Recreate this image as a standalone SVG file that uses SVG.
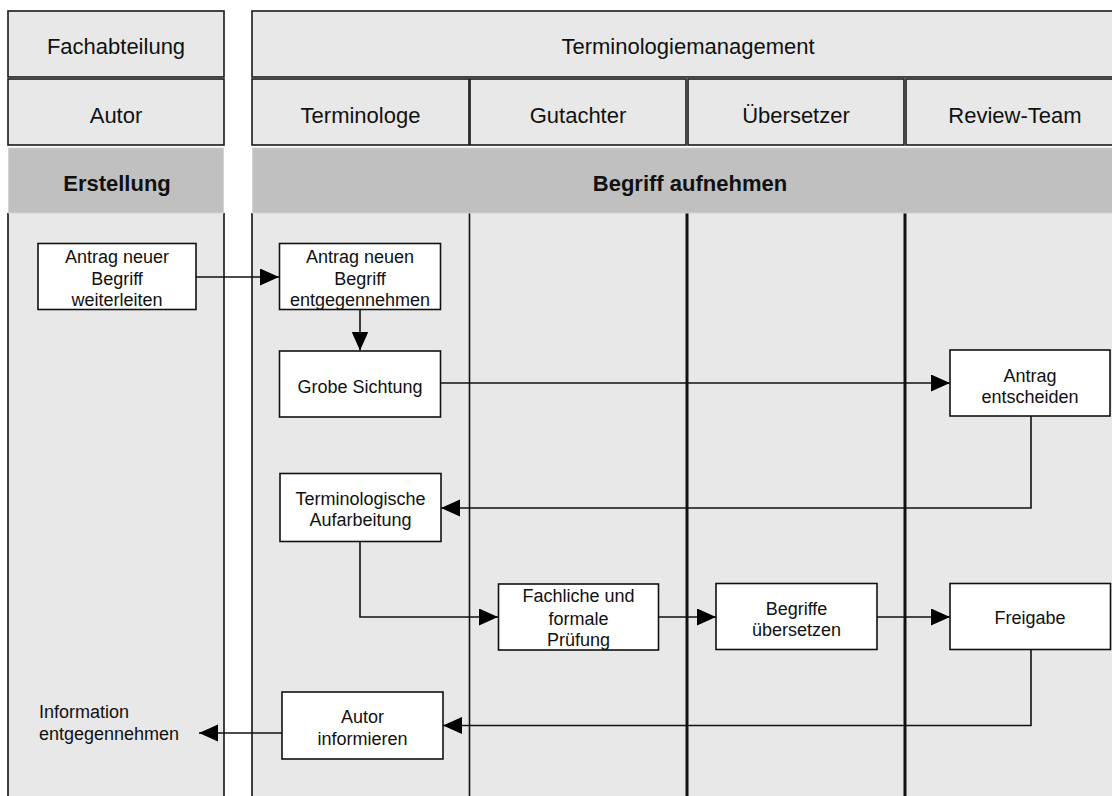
<svg xmlns="http://www.w3.org/2000/svg" width="1112" height="796" viewBox="0 0 1112 796">
<defs>
<style>
.hdr{fill:#e8e8e8;stroke:#1a1a1a;stroke-width:1.6}
.phase{fill:#c0c0c0;stroke:#d4d4d4;stroke-width:1}
.body{fill:#e8e8e8;stroke:none}
.bl{stroke:#111;stroke-width:1.6;fill:none}
.blt{stroke:#111;stroke-width:3;fill:none}
.ht{font-family:"Liberation Sans",Arial,sans-serif;font-size:22px;fill:#111;text-anchor:middle}
.pt{font-family:"Liberation Sans",Arial,sans-serif;font-size:22px;font-weight:bold;fill:#111;text-anchor:middle}
.box{fill:#fff;stroke:#111;stroke-width:1.6}
.nt{font-family:"Liberation Sans",Arial,sans-serif;font-size:18px;fill:#111;text-anchor:middle}
.lt{font-family:"Liberation Sans",Arial,sans-serif;font-size:18px;fill:#111}
.con{stroke:#111;stroke-width:1.6;fill:none}
</style>
<marker id="ah" markerUnits="userSpaceOnUse" markerWidth="20" markerHeight="18" refX="19" refY="8.5" orient="auto">
<path d="M0,0 L19,8.5 L0,17 z" fill="#000"/>
</marker>
</defs>
<rect x="0" y="0" width="1112" height="796" fill="#fff"/>

<g id="lanes">
<rect class="body" x="8" y="213" width="216" height="590"/>
<rect class="body" x="252" y="213" width="873" height="590"/>
<line class="bl" x1="8" y1="213" x2="8" y2="800"/>
<line class="bl" x1="224" y1="213" x2="224" y2="800"/>
<line class="bl" x1="252" y1="213" x2="252" y2="800"/>
<line class="bl" x1="469.5" y1="213" x2="469.5" y2="800"/>
<line class="blt" x1="687" y1="213" x2="687" y2="800"/>
<line class="blt" x1="905" y1="213" x2="905" y2="800"/>
</g>

<g id="header-fachabteilung">
<rect class="hdr" x="8" y="11" width="216" height="66"/>
<text class="ht" x="116" y="54">Fachabteilung</text>
</g>
<g id="header-terminologiemanagement">
<rect class="hdr" x="252" y="11" width="873" height="66"/>
<text class="ht" x="688" y="54">Terminologiemanagement</text>
</g>
<g id="role-autor">
<rect class="hdr" x="8" y="79" width="216" height="66"/>
<text class="ht" x="116" y="122.5">Autor</text>
</g>
<g id="role-terminologe">
<rect class="hdr" x="252" y="79" width="217" height="66"/>
<text class="ht" x="360.5" y="122.5">Terminologe</text>
</g>
<g id="role-gutachter">
<rect class="hdr" x="470" y="79" width="216" height="66"/>
<text class="ht" x="578" y="122.5">Gutachter</text>
</g>
<g id="role-uebersetzer">
<rect class="hdr" x="688" y="79" width="216" height="66"/>
<text class="ht" x="796" y="122.5">Übersetzer</text>
</g>
<g id="role-review">
<rect class="hdr" x="906" y="79" width="219" height="66"/>
<text class="ht" x="1015" y="122.5">Review-Team</text>
</g>
<g id="phase-erstellung">
<rect class="phase" x="8.5" y="148" width="215" height="65"/>
<text class="pt" x="117" y="190.5">Erstellung</text>
</g>
<g id="phase-begriff">
<rect class="phase" x="252.5" y="148" width="872" height="65"/>
<text class="pt" x="690" y="190.5">Begriff aufnehmen</text>
</g>

<g id="connectors">
<line class="con" x1="196" y1="277" x2="279" y2="277" marker-end="url(#ah)"/>
<line class="con" x1="360" y1="309" x2="360" y2="350.5" marker-end="url(#ah)"/>
<line class="con" x1="441" y1="383" x2="950" y2="383" marker-end="url(#ah)"/>
<polyline class="con" points="1031,416 1031,508 441,508" marker-end="url(#ah)"/>
<polyline class="con" points="360,542 360,617 498,617" marker-end="url(#ah)"/>
<line class="con" x1="658" y1="617" x2="716" y2="617" marker-end="url(#ah)"/>
<line class="con" x1="877" y1="617" x2="950" y2="617" marker-end="url(#ah)"/>
<polyline class="con" points="1031,649 1031,725.5 443,725.5" marker-end="url(#ah)"/>
<line class="con" x1="282" y1="733" x2="199" y2="733" marker-end="url(#ah)"/>
</g>

<g id="n-antrag-weiterleiten">
<rect class="box" x="38" y="243.5" width="158" height="66"/>
<text class="nt" x="117" y="263">Antrag neuer</text>
<text class="nt" x="117" y="284.7">Begriff</text>
<text class="nt" x="117" y="306.3">weiterleiten</text>
</g>
<g id="n-antrag-entgegennehmen">
<rect class="box" x="279.5" y="243.5" width="161" height="66"/>
<text class="nt" x="360" y="263">Antrag neuen</text>
<text class="nt" x="360" y="284.7">Begriff</text>
<text class="nt" x="360" y="306.3">entgegennehmen</text>
</g>
<g id="n-grobe-sichtung">
<rect class="box" x="279.5" y="351" width="161" height="66"/>
<text class="nt" x="360" y="392.5">Grobe Sichtung</text>
</g>
<g id="n-antrag-entscheiden">
<rect class="box" x="950" y="350" width="160" height="66"/>
<text class="nt" x="1030" y="381.7">Antrag</text>
<text class="nt" x="1030" y="403.4">entscheiden</text>
</g>
<g id="n-terminologische-aufarbeitung">
<rect class="box" x="280" y="473.5" width="161" height="68"/>
<text class="nt" x="360.5" y="504.7">Terminologische</text>
<text class="nt" x="360.5" y="526.4">Aufarbeitung</text>
</g>
<g id="n-fachliche-pruefung">
<rect class="box" x="498.5" y="584" width="160" height="66"/>
<text class="nt" x="578.5" y="602.4">Fachliche und</text>
<text class="nt" x="578.5" y="624.7">formale</text>
<text class="nt" x="578.5" y="646.4">Prüfung</text>
</g>
<g id="n-begriffe-uebersetzen">
<rect class="box" x="716" y="583.5" width="161" height="66"/>
<text class="nt" x="796.5" y="614.7">Begriffe</text>
<text class="nt" x="796.5" y="636.4">übersetzen</text>
</g>
<g id="n-freigabe">
<rect class="box" x="950" y="583.5" width="160.5" height="66"/>
<text class="nt" x="1030" y="623.6">Freigabe</text>
</g>
<g id="n-autor-informieren">
<rect class="box" x="282" y="692" width="161" height="67"/>
<text class="nt" x="362.5" y="723">Autor</text>
<text class="nt" x="362.5" y="744.7">informieren</text>
</g>
<g id="n-information-entgegennehmen">
<text class="lt" x="39" y="718">Information</text>
<text class="lt" x="39" y="740.4">entgegennehmen</text>
</g>
</svg>
